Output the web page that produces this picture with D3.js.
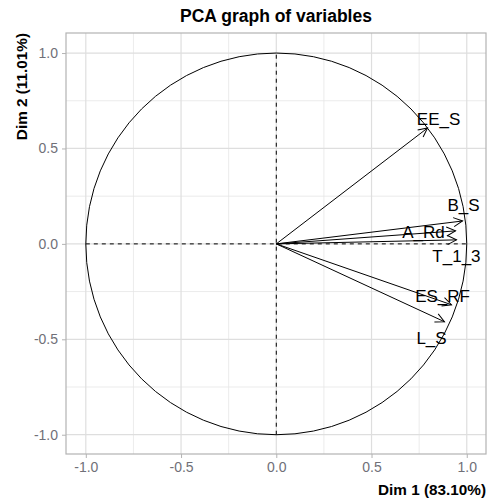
<!DOCTYPE html>
<html><head><meta charset="utf-8">
<script src="https://cdn.jsdelivr.net/npm/d3@7"></script>
<style>body{margin:0;background:#fff}svg{display:block;font-family:"Liberation Sans",Arial,sans-serif}</style>
</head><body>
<script>
const variables = ["EE_S","B_S","A_Rd","T_1_3","ES_RF","L_S"];
const dim1 = [0.794, 0.978, 0.941, 0.946, 0.920, 0.883];
const dim2 = [0.607, 0.120, 0.068, 0.021, -0.319, -0.408];
const labelDim1 = [0.852, 0.983, 0.773, 0.946, 0.873, 0.815];
const labelDim2 = [0.654, 0.204, 0.063, -0.063, -0.272, -0.492];
const tickValues = [-1.0, -0.5, 0.0, 0.5, 1.0];
const minorValues = [-0.75, -0.25, 0.25, 0.75];
const title = "PCA graph of variables";
const xTitle = "Dim 1 (83.10%)";
const yTitle = "Dim 2 (11.01%)";

const W = 487, H = 501;
const panel = {l: 66, r: 486, t: 33, b: 454};
const x = d3.scaleLinear().domain([-1.104, 1.101]).range([panel.l, panel.r]);
const y = d3.scaleLinear().domain([-1.101, 1.105]).range([panel.b, panel.t]);

const svg = d3.select("body").append("svg").attr("width", W).attr("height", H);
svg.append("rect").attr("width", W).attr("height", H).attr("fill", "#fff");

const g = svg.append("g");
// minor grid
g.selectAll(".mx").data(minorValues).join("line")
  .attr("x1", d => x(d)).attr("x2", d => x(d)).attr("y1", panel.t).attr("y2", panel.b)
  .attr("stroke", "#e6e6e6").attr("stroke-width", 0.8);
g.selectAll(".my").data(minorValues).join("line")
  .attr("y1", d => y(d)).attr("y2", d => y(d)).attr("x1", panel.l).attr("x2", panel.r)
  .attr("stroke", "#e6e6e6").attr("stroke-width", 0.8);
// major grid
g.selectAll(".Mx").data(tickValues).join("line")
  .attr("x1", d => x(d)).attr("x2", d => x(d)).attr("y1", panel.t).attr("y2", panel.b)
  .attr("stroke", "#dedede").attr("stroke-width", 1.2);
g.selectAll(".My").data(tickValues).join("line")
  .attr("y1", d => y(d)).attr("y2", d => y(d)).attr("x1", panel.l).attr("x2", panel.r)
  .attr("stroke", "#dedede").attr("stroke-width", 1.2);

// axes
const fmt = d3.format(".1f");
const xAxis = svg.append("g").attr("transform", `translate(0,${panel.b})`)
  .call(d3.axisBottom(x).tickValues(tickValues).tickFormat(d => fmt(d).replace("−","-")).tickSizeOuter(0).tickSize(4).tickPadding(4));
const yAxis = svg.append("g").attr("transform", `translate(${panel.l},0)`)
  .call(d3.axisLeft(y).tickValues(tickValues).tickFormat(d => fmt(d).replace("−","-")).tickSizeOuter(0).tickSize(4).tickPadding(4));
[xAxis, yAxis].forEach(a => {
  a.select(".domain").remove();
  a.selectAll(".tick line").attr("stroke", "#b3b3b3").attr("stroke-width", 1);
  a.selectAll(".tick text").attr("fill", "#707078").style("font-size", "14px").style("font-family", "Liberation Sans, Arial, sans-serif");
});

// panel border
svg.append("rect").attr("x", panel.l).attr("y", panel.t).attr("width", panel.r - panel.l).attr("height", panel.b - panel.t)
  .attr("fill", "none").attr("stroke", "#b3b3b3").attr("stroke-width", 1.2);

// unit circle
const rx = x(1) - x(0), ry = y(0) - y(1);
svg.append("ellipse").attr("cx", x(0)).attr("cy", y(0)).attr("rx", rx).attr("ry", ry)
  .attr("fill", "none").attr("stroke", "#000").attr("stroke-width", 1);

// dashed axes
svg.append("line").attr("x1", x(-1)).attr("x2", x(1)).attr("y1", y(0)).attr("y2", y(0))
  .attr("stroke", "#000").attr("stroke-dasharray", "4,4").attr("stroke-width", 1);
svg.append("line").attr("x1", x(0)).attr("x2", x(0)).attr("y1", y(-1)).attr("y2", y(1))
  .attr("stroke", "#000").attr("stroke-dasharray", "4,4").attr("stroke-width", 1);

// arrows
svg.append("defs").append("marker").attr("id", "arr")
  .attr("viewBox", "-10 -6 12 12").attr("refX", 0).attr("refY", 0)
  .attr("markerWidth", 12).attr("markerHeight", 12).attr("markerUnits", "userSpaceOnUse")
  .attr("orient", "auto")
  .append("path").attr("d", "M-9,-4.5 L0,0 L-9,4.5").attr("fill", "none").attr("stroke", "#000").attr("stroke-width", 1);

const data = variables.map((v, i) => ({v, a: dim1[i], b: dim2[i], la: labelDim1[i], lb: labelDim2[i]}));
svg.selectAll(".arrow").data(data).join("line")
  .attr("x1", x(0)).attr("y1", y(0)).attr("x2", d => x(d.a)).attr("y2", d => y(d.b))
  .attr("stroke", "#000").attr("stroke-width", 1).attr("marker-end", "url(#arr)");

svg.selectAll(".lab").data(data).join("text")
  .attr("x", d => x(d.la)).attr("y", d => y(d.lb)).attr("dy", "0.35em")
  .attr("text-anchor", "middle").style("font-size", "17px").attr("fill", "#000")
  .text(d => d.v);

// titles
svg.append("text").attr("x", (panel.l + panel.r) / 2).attr("y", 22).attr("text-anchor", "middle")
  .style("font-size", "17.5px").style("font-weight", "bold").text(title);
svg.append("text").attr("x", panel.r).attr("y", 495).attr("text-anchor", "end")
  .style("font-size", "15.3px").style("font-weight", "bold").text(xTitle);
svg.append("text").attr("transform", `translate(27,${panel.t}) rotate(-90)`).attr("text-anchor", "end")
  .style("font-size", "15.3px").style("font-weight", "bold").text(yTitle);
</script>
</body></html>
